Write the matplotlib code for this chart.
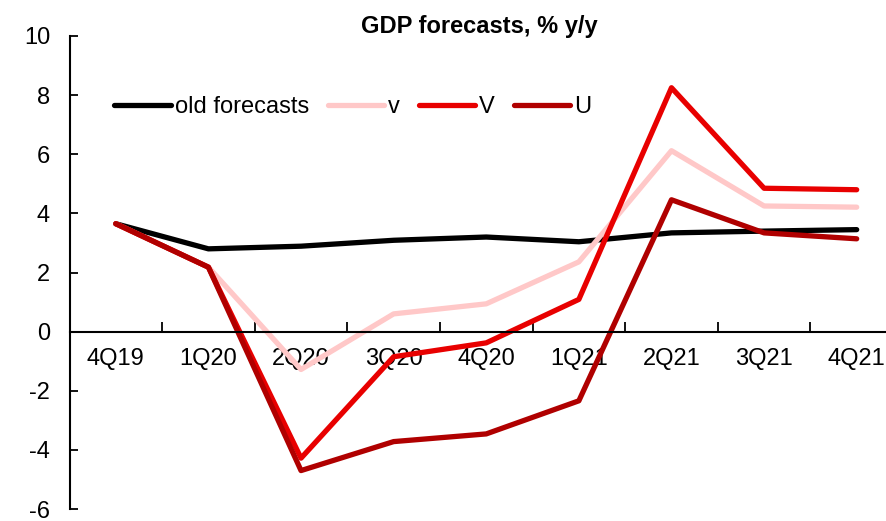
import matplotlib
matplotlib.use("Agg")
import matplotlib.pyplot as plt
import numpy as np

quarters = ["4Q19", "1Q20", "2Q20", "3Q20", "4Q20", "1Q21", "2Q21", "3Q21", "4Q21"]
old_forecasts = [3.65, 2.8, 2.89, 3.09, 3.2, 3.04, 3.34, 3.4, 3.45]
v_small = [3.65, 2.18, -1.28, 0.6, 0.94, 2.36, 6.12, 4.25, 4.21]
v_big = [3.65, 2.18, -4.28, -0.85, -0.38, 1.09, 8.25, 4.85, 4.8]
u_shape = [3.65, 2.18, -4.7, -3.72, -3.46, -2.34, 4.46, 3.34, 3.14]

plt.rcParams['font.family'] = ['Liberation Sans', 'DejaVu Sans']
plt.rcParams['axes.unicode_minus'] = False

fig = plt.figure(figsize=(8.86, 5.21), dpi=100)
ax = fig.add_axes([69.5 / 886, 1 - 509 / 521, (903 - 69.5) / 886, (509 - 36) / 521])

x = np.arange(len(quarters))
lw = 3.8
fs = 17
ax.plot(x, old_forecasts, color="black", lw=lw, label="old forecasts", solid_capstyle="round")
ax.plot(x, v_small, color="#FFC8C8", lw=lw, label="v", solid_capstyle="round")
ax.plot(x, v_big, color="#E80000", lw=lw, label="V", solid_capstyle="round")
ax.plot(x, u_shape, color="#B00000", lw=lw, label="U", solid_capstyle="round")

ax.set_xlim(-0.5, 8.5)
ax.set_ylim(-6, 10)
ax.set_yticks(range(-6, 11, 2))
ax.tick_params(axis="y", direction="in", length=6, width=1.3, labelsize=fs, pad=14)

# category boundary ticks, labels at the centres
ax.set_xticks(np.arange(-0.5, 8.5, 1))
ax.set_xticklabels([])
ax.set_xticks(x, minor=True)
ax.set_xticklabels(quarters, minor=True)
ax.tick_params(axis="x", which="major", direction="in", length=7, width=1.3)
ax.tick_params(axis="x", which="minor", length=0, labelsize=fs, pad=12)

for s in ["top", "right"]:
    ax.spines[s].set_visible(False)
ax.spines["bottom"].set_position(("data", 0))
ax.spines["left"].set_linewidth(1.5)
ax.spines["bottom"].set_linewidth(1.5)

fig.text(479 / 886, 1 - 27 / 521, "GDP forecasts, % y/y", ha="center", va="center",
         fontsize=fs, fontweight="bold")

ax.legend(loc="center left", bbox_to_anchor=(105 / 886, 1 - 107 / 521),
          bbox_transform=fig.transFigure, ncol=4, frameon=False, fontsize=fs,
          handlelength=2.4, handletextpad=0.15, columnspacing=0.8, borderaxespad=0)

fig.savefig("out.png", dpi=100)
